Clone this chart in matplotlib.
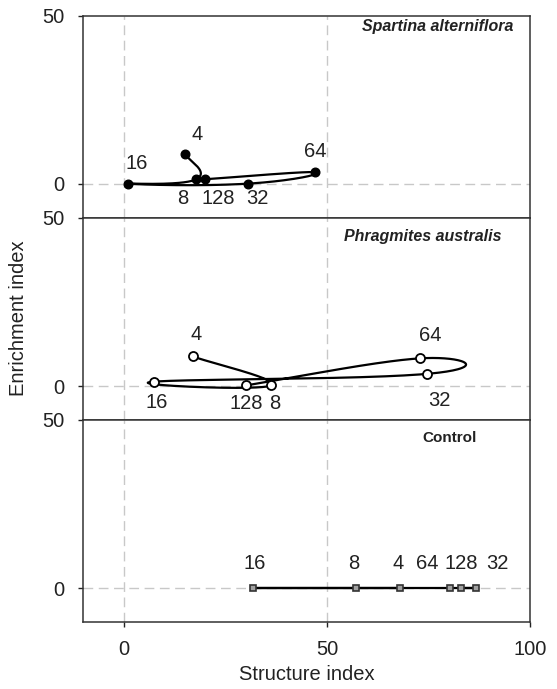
import numpy as np
import matplotlib
matplotlib.use("Agg")
import matplotlib.pyplot as plt

plt.rcParams['font.family'] = ['Liberation Sans', 'DejaVu Sans']

# ---- data ----
sizes = ["4", "8", "16", "32", "64", "128"]

spartina_x = [15.0, 17.8, 1.0, 30.5, 47.1, 19.9]
spartina_y = [9.0, 1.4, 0.1, 0.1, 3.5, 1.4]

phrag_x = [16.9, 36.2, 7.5, 74.6, 72.8, 30.1]
phrag_y = [8.8, 0.2, 1.3, 3.6, 8.2, 0.2]

control_x = [68.0, 57.1, 31.7, 86.6, 80.3, 83.1]
control_y = [0.0, 0.0, 0.0, 0.0, 0.0, 0.0]

panel_titles = ["Spartina alterniflora", "Phragmites australis", "Control"]

# layout only: label offsets in pixels, title anchor (axes fraction)
spartina_off = {"4": (12, 19), "8": (-13, -19), "16": (9, 20), "32": (10, -15),
                "64": (0, 21), "128": (13, -19)}
phrag_off = {"4": (4, 22), "8": (4, -18), "16": (2, -21), "32": (12, -27),
             "64": (11, 23), "128": (0, -18)}
control_off = {"4": (-2, 25), "8": (-2, 25), "16": (2, 25), "32": (22, 25),
               "64": (-23, 25), "128": (0, 25)}
title_pos = [(0.9626, 0.945), (0.937, 0.906), (0.881, 0.911)]


def smooth_line(ax, xs, ys, tension=0.25, n=60):
    """Bezier-smoothed line through the points (Catmull-Rom style handles),
    computed in display space."""
    P = ax.transData.transform(np.column_stack([xs, ys]).astype(float))
    m = len(P)
    out = []
    for i in range(m - 1):
        p0 = P[i - 1] if i > 0 else P[i]
        p1 = P[i]
        p2 = P[i + 1]
        p3 = P[i + 2] if i + 2 < m else P[i + 1]
        c1 = p1 + (p2 - p0) * tension
        c2 = p2 - (p3 - p1) * tension
        t = np.linspace(0, 1, n)[:, None]
        seg = ((1 - t) ** 3) * p1 + 3 * ((1 - t) ** 2) * t * c1 + 3 * (1 - t) * t ** 2 * c2 + t ** 3 * p2
        if i > 0:
            seg = seg[1:]
        out.append(seg)
    S = ax.transData.inverted().transform(np.vstack(out))
    return S[:, 0], S[:, 1]


fig = plt.figure(figsize=(5.57, 6.89), dpi=100)
left, width = 0.1496, 0.802
h = 0.2932
bottoms = [0.6841, 0.3909, 0.0977]
axes = [fig.add_axes([left, b, width, h]) for b in bottoms]

series = [
    (spartina_x, spartina_y, spartina_off, dict(marker='o', mfc='black', mec='black', ms=6.2), 0.25),
    (phrag_x, phrag_y, phrag_off, dict(marker='o', mfc='white', mec='black', ms=6.5, mew=1.3), 0.25),
    (control_x, control_y, control_off, dict(marker='s', mfc='#a0a0a0', mec='#333333', ms=5, mew=1.2), 0.0),
]

grid_kw = dict(color='#c8c8c8', lw=1.0, dashes=(7, 4), zorder=0)

for ax, (xs, ys, offs, mk, tens), title, tpos in zip(axes, series, panel_titles, title_pos):
    ax.set_xlim(-10, 100)
    ax.set_ylim(-10, 50)
    ax.axvline(0, **grid_kw)
    ax.axvline(50, **grid_kw)
    ax.axhline(0, **grid_kw)
    sx, sy = smooth_line(ax, xs, ys, tension=tens)
    ax.plot(sx, sy, color='black', lw=1.6, zorder=2, solid_capstyle='round')
    ax.plot(xs, ys, linestyle='none', zorder=3, **mk)
    for lab, x, y in zip(sizes, xs, ys):
        ax.annotate(lab, (x, y), xytext=offs[lab], textcoords='offset pixels',
                    ha='center', va='center', fontsize=14.5, color='#222222')
    style = 'italic' if title != "Control" else 'normal'
    ax.text(tpos[0], tpos[1], title, transform=ax.transAxes, ha='right', va='center',
            fontsize=11.5 if style == 'italic' else 11, fontweight='bold',
            fontstyle=style, color='#222222')
    ax.set_yticks([0, 50])
    ax.set_xticks([0, 50, 100])
    ax.tick_params(axis='y', direction='out', length=3.5, width=1, pad=10,
                   labelsize=14.5, colors='#222222')
    ax.tick_params(axis='x', direction='out', length=3.5, width=1, pad=10,
                   labelsize=14.5, colors='#222222')
    for sp in ax.spines.values():
        sp.set_linewidth(1.1)
        sp.set_color('#333333')

for ax in axes[:2]:
    ax.tick_params(axis='x', bottom=False, labelbottom=False)

axes[1].set_ylabel("Enrichment index", fontsize=14.5, color='#222222', labelpad=10)
axes[2].set_xlabel("Structure index", fontsize=14.5, color='#222222', labelpad=4)

fig.savefig("out.png", dpi=100)
